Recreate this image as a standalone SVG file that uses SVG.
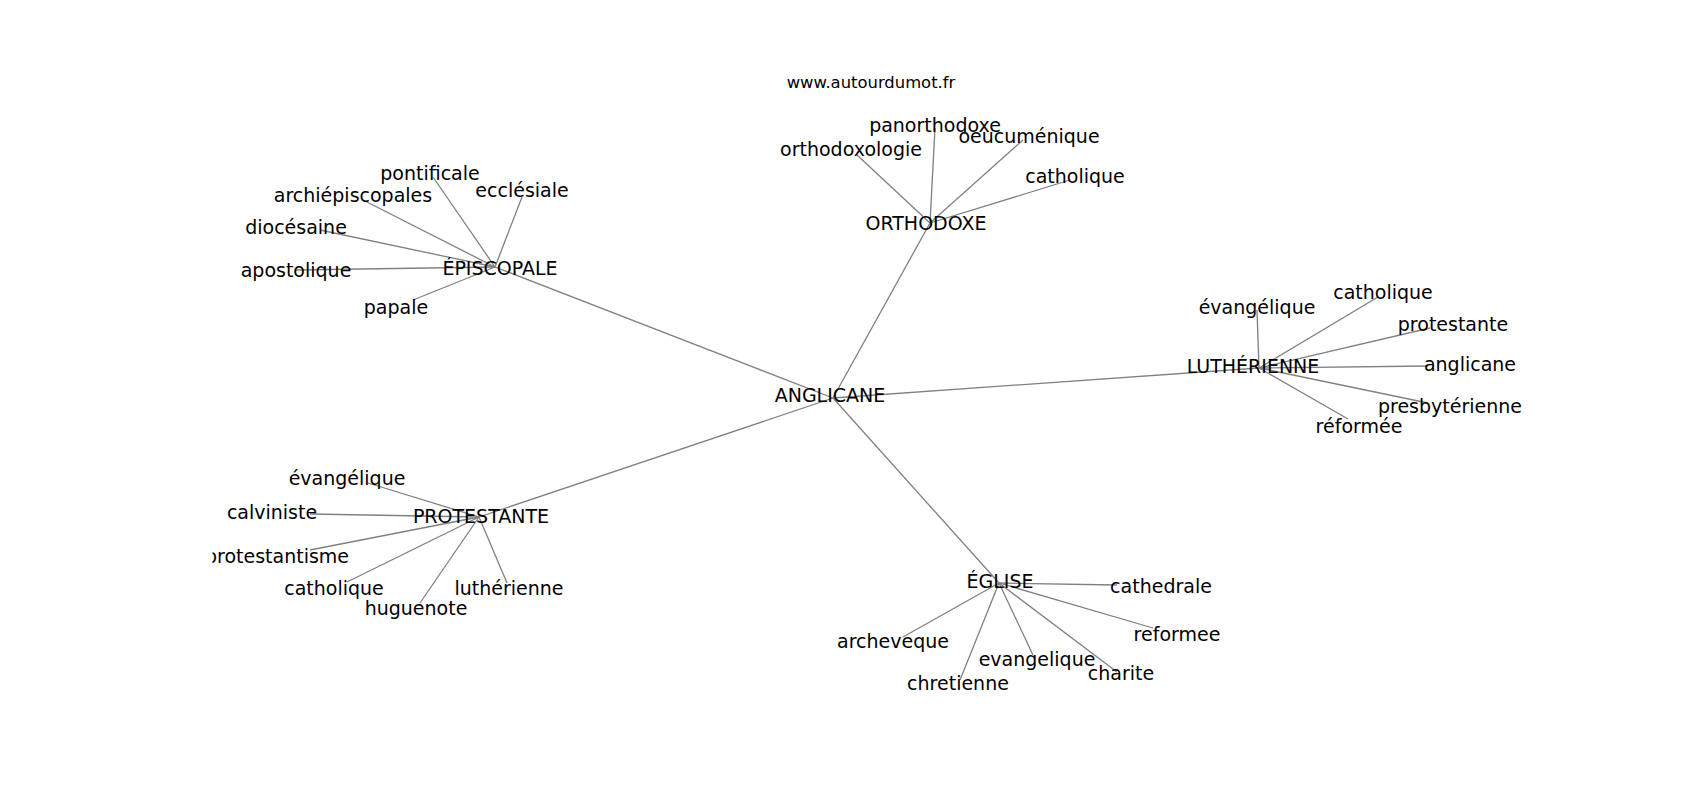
<svg xmlns="http://www.w3.org/2000/svg" width="1700" height="800" viewBox="0 0 1700 800">
<defs>
<clipPath id="ax"><rect x="212.5" y="96" width="1317.5" height="616"/></clipPath>
</defs>
<style>
text{font-family:"DejaVu Sans","Liberation Sans",sans-serif;font-size:19px;fill:#000;text-anchor:middle}
.title{font-size:16.4px}
#edges line{stroke:#808080;stroke-width:1.3;fill:none}
</style>
<rect width="1700" height="800" fill="#fff"/>
<text class="title" x="871" y="88">www.autourdumot.fr</text>
<g clip-path="url(#ax)">
<g id="edges">
<line x1="833" y1="398" x2="495" y2="267"/>
<line x1="833" y1="398" x2="930" y2="223"/>
<line x1="833" y1="398" x2="1259" y2="368"/>
<line x1="833" y1="398" x2="479" y2="517"/>
<line x1="833" y1="398" x2="999" y2="583"/>
<line x1="495" y1="267" x2="433" y2="177"/>
<line x1="495" y1="267" x2="363" y2="200"/>
<line x1="495" y1="267" x2="522" y2="197"/>
<line x1="495" y1="267" x2="320" y2="230"/>
<line x1="495" y1="267" x2="295" y2="270"/>
<line x1="495" y1="267" x2="413" y2="300"/>
<line x1="930" y1="223" x2="935" y2="128"/>
<line x1="930" y1="223" x2="857" y2="155"/>
<line x1="930" y1="223" x2="1023" y2="140"/>
<line x1="930" y1="223" x2="1070" y2="180"/>
<line x1="1259" y1="368" x2="1257" y2="310"/>
<line x1="1259" y1="368" x2="1378" y2="297"/>
<line x1="1259" y1="368" x2="1430" y2="328"/>
<line x1="1259" y1="368" x2="1428" y2="366"/>
<line x1="1259" y1="368" x2="1428" y2="403"/>
<line x1="1259" y1="368" x2="1348" y2="419"/>
<line x1="479" y1="517" x2="368" y2="483"/>
<line x1="479" y1="517" x2="310" y2="514"/>
<line x1="479" y1="517" x2="310" y2="550"/>
<line x1="479" y1="517" x2="347" y2="582"/>
<line x1="479" y1="517" x2="420" y2="603"/>
<line x1="479" y1="517" x2="507" y2="583"/>
<line x1="999" y1="583" x2="1117" y2="585"/>
<line x1="999" y1="583" x2="1153" y2="628"/>
<line x1="999" y1="583" x2="903" y2="637"/>
<line x1="999" y1="583" x2="1033" y2="655"/>
<line x1="999" y1="583" x2="960" y2="680"/>
<line x1="999" y1="583" x2="1117" y2="672"/>
</g>
<g id="n-anglicane"><text x="830" y="401.5">ANGLICANE</text></g>
<g id="n-episcopale"><text x="500" y="274.5">ÉPISCOPALE</text></g>
<g id="n-pontificale"><text x="430" y="179.5">pontificale</text></g>
<g id="n-archiepiscopales"><text x="353" y="201.5">archiépiscopales</text></g>
<g id="n-ecclesiale"><text x="522" y="196.5">ecclésiale</text></g>
<g id="n-diocesaine"><text x="296" y="233.5">diocésaine</text></g>
<g id="n-apostolique"><text x="296" y="277">apostolique</text></g>
<g id="n-papale"><text x="396" y="313.5">papale</text></g>
<g id="n-orthodoxe"><text x="926" y="229.5">ORTHODOXE</text></g>
<g id="n-panorthodoxe"><text x="935" y="132">panorthodoxe</text></g>
<g id="n-orthodoxologie"><text x="851" y="156">orthodoxologie</text></g>
<g id="n-oeucumenique"><text x="1029" y="143">oeucuménique</text></g>
<g id="n-catholique-o"><text x="1075" y="183">catholique</text></g>
<g id="n-lutherienne"><text x="1253" y="373">LUTHÉRIENNE</text></g>
<g id="n-evangelique-l"><text x="1257" y="314">évangélique</text></g>
<g id="n-catholique-l"><text x="1383" y="299">catholique</text></g>
<g id="n-protestante-l"><text x="1453" y="331">protestante</text></g>
<g id="n-anglicane-l"><text x="1470" y="371">anglicane</text></g>
<g id="n-presbyterienne"><text x="1450" y="413">presbytérienne</text></g>
<g id="n-reformee-l"><text x="1359" y="433">réformée</text></g>
<g id="n-protestante"><text x="481" y="523">PROTESTANTE</text></g>
<g id="n-evangelique-p"><text x="347" y="485">évangélique</text></g>
<g id="n-calviniste"><text x="272" y="519">calviniste</text></g>
<g id="n-protestantisme"><text x="277" y="563">protestantisme</text></g>
<g id="n-catholique-p"><text x="334" y="594.5">catholique</text></g>
<g id="n-huguenote"><text x="416" y="614.5">huguenote</text></g>
<g id="n-lutherienne-p"><text x="509" y="594.5">luthérienne</text></g>
<g id="n-eglise"><text x="1000" y="588">ÉGLISE</text></g>
<g id="n-cathedrale"><text x="1161" y="593">cathedrale</text></g>
<g id="n-reformee-e"><text x="1177" y="641">reformee</text></g>
<g id="n-archeveque"><text x="893" y="648">archeveque</text></g>
<g id="n-evangelique-e"><text x="1037" y="666">evangelique</text></g>
<g id="n-chretienne"><text x="958" y="690">chretienne</text></g>
<g id="n-charite"><text x="1121" y="680">charite</text></g>
</g>
</svg>
